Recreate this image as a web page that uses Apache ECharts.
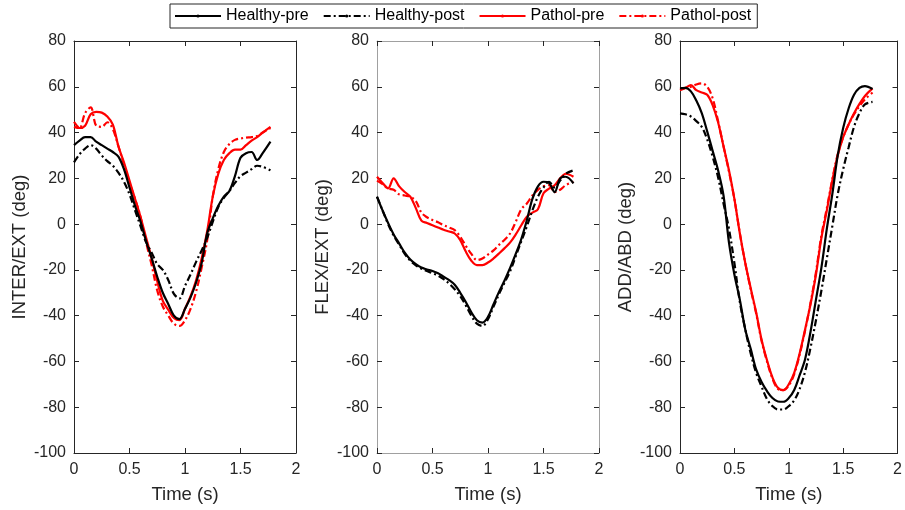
<!DOCTYPE html>
<html>
<head>
<meta charset="utf-8">
<script src="https://cdn.jsdelivr.net/npm/echarts@6/dist/echarts.min.js"></script>
<style>html,body{margin:0;padding:0;background:#fff}#c{width:905px;height:510px}</style>
</head>
<body>
<div id="c"></div>
<script>
// ---- data ----
const TIME = [0,0.05,0.1,0.15,0.2,0.25,0.3,0.35,0.4,0.45,0.5,0.55,0.6,0.65,0.7,0.75,0.8,0.85,0.9,0.95,1.0,1.05,1.1,1.15,1.2,1.25,1.3,1.35,1.4,1.45,1.5,1.55,1.6,1.65,1.7,1.77];
const SERIES_NAMES = ['Healthy-pre','Healthy-post','Pathol-pre','Pathol-post'];
const Y_LABELS = ['INTER/EXT (deg)','FLEX/EXT (deg)','ADD/ABD (deg)'];
const X_LABEL = 'Time (s)';

// Panel 1: INTER/EXT
const IE_HEALTHY_PRE  = [34.5,36.5,38,38,36,34.5,33,31.5,29.5,24,16,8,1,-7.5,-15,-23,-30,-35,-40,-41.5,-37,-32,-25.5,-17,-4,2.5,8,12,14.5,21,29,31,31.5,28,31,36];
const IE_HEALTHY_POST = [27,30.5,33,34.5,33,30,27.5,25.5,22.5,18.5,13,6,-1,-8,-12.5,-17.5,-20,-24.5,-30.5,-32.5,-27,-22,-16.5,-11.5,-6,1,7.5,11.5,14.5,18,21,22.5,24,25.5,25,23.5];
const IE_PATHOL_PRE   = [42.5,42,43,48,49,48.7,47,43.5,34,27,19,11,3,-6,-15,-25,-33.5,-37.5,-41,-42,-37,-31.5,-24.5,-15,-3,12,22,28,31,32.5,32.5,34.5,36.5,38,40,42.5];
const IE_PATHOL_POST  = [44.7,42,48.5,51,43,42.5,44.5,41.5,34,26,18,11,3,-8,-18,-29,-36,-40,-43.5,-44.5,-42,-37,-29.5,-19,-7,12,24,31.5,35,36.8,37.4,37.8,38,38.5,40,42];

// Panel 2: FLEX/EXT
const FE_HEALTHY_PRE  = [11.9,6,0.5,-4.5,-8.5,-12.5,-15.5,-17.5,-19,-19.8,-20.5,-21.5,-23,-24.5,-26.5,-30,-34,-38.5,-42,-43,-40.5,-35,-29.5,-24.5,-19,-13,-6.5,1.7,11,16.5,18.5,18,14,20,20.7,17.8];
const FE_HEALTHY_POST = [12,6,0,-5,-9,-13,-16,-18,-19.5,-20.5,-21.5,-22.5,-24,-26,-28.5,-31.5,-35.5,-40,-43.5,-44.5,-41.5,-36,-30.5,-25.5,-20.5,-14,-7.5,-1,6,12,16,18.5,16,19,22,23.5];
const FE_PATHOL_PRE   = [20.7,18,15.6,20,16.5,14,12,7,1.5,0.5,-0.5,-1.5,-2.5,-3.2,-4.1,-7,-12,-16,-17.9,-17.9,-16.8,-15,-12.8,-10.5,-8,-4.5,-0.5,3.2,5,6.5,13.5,15.5,17,20,22,20.7];
const FE_PATHOL_POST  = [19,17.5,15.6,15,13,12.5,12,10,5,3,1.8,0.8,-0.5,-1.5,-2.6,-5.5,-9.5,-13,-15.7,-15,-13.3,-11.5,-9,-6.8,-4,1,6.5,9,12.5,15,16.5,17,14,15,17,18.5];

// Panel 3: ADD/ABD
const AA_HEALTHY_PRE  = [59.3,59.5,58,54,48.5,40.5,32,23.5,12.5,-8,-22,-33,-46,-54.5,-63.5,-69,-73,-76,-77.5,-77.6,-76,-72.5,-66,-59,-47,-33,-19,-2,13,30,42,50.5,56.5,59.5,60.3,59];
const AA_HEALTHY_POST = [48.4,48,47,45,42.5,37,29.5,20.5,9,-2,-17,-34,-46,-56.5,-65,-71,-76.5,-79.5,-81,-81,-79.5,-77,-72,-64.5,-54,-42,-29,-15,-1,13,24,33.5,42.5,48.5,52.3,53.4];
const AA_PATHOL_PRE   = [58.5,59.5,60.7,58.5,57.5,56.5,52,44.5,34,23.5,11,-4,-17,-28,-38.5,-50.5,-59.5,-67,-71.5,-72.5,-70,-65,-56.5,-46,-35,-22,-6,6,19,30,38,43.5,48.4,52.5,56,59.3];
const AA_PATHOL_POST  = [59,59.5,60,61,61.5,60,55,45,34,23,11,-4,-17,-28.5,-39,-51,-60,-67.5,-72,-72.5,-70.5,-65.5,-57,-46.5,-34.5,-21,-5,7,19.5,30.5,38,43.5,48,51.5,54.5,57.5];

const PANELS = [
  [IE_HEALTHY_PRE, IE_HEALTHY_POST, IE_PATHOL_PRE, IE_PATHOL_POST],
  [FE_HEALTHY_PRE, FE_HEALTHY_POST, FE_PATHOL_PRE, FE_PATHOL_POST],
  [AA_HEALTHY_PRE, AA_HEALTHY_POST, AA_PATHOL_PRE, AA_PATHOL_POST]
];

// ---- styling ----
const FONT = 'Liberation Sans, Arial, Helvetica, sans-serif';
const TXT = '#262626';
const COLORS = ['#000000','#000000','#ff0000','#ff0000'];
const DASHDOT = [7,3,2,3];
const TYPES = ['solid', DASHDOT, 'solid', DASHDOT];
const GRID_LEFT = [74, 377, 680];
const GRID_W = 222, GRID_TOP = 41, GRID_H = 412;
const AXIS_LINE_COLORS = [TXT, '#a0a0a0', TXT];

const grids = [], xAxes = [], yAxes = [], series = [];
for (let p = 0; p < 3; p++) {
  grids.push({left: GRID_LEFT[p], top: GRID_TOP, width: GRID_W, height: GRID_H, show: false});
  const lineCol = AXIS_LINE_COLORS[p];
  const tick = {show: true, inside: true, length: 5, lineStyle: {color: TXT, width: 1}};
  const baseX = {type: 'value', gridIndex: p, min: 0, max: 2, interval: 0.5,
    splitLine: {show: false}, axisLine: {show: true, onZero: false, lineStyle: {color: lineCol, width: 1}}, axisTick: tick};
  xAxes.push(Object.assign({}, baseX, {position: 'bottom',
    axisLabel: {show: true, margin: 9, fontSize: 16, color: TXT, fontFamily: FONT},
    name: X_LABEL, nameLocation: 'middle', nameGap: 32,
    nameTextStyle: {fontSize: 18.5, color: TXT, fontFamily: FONT}}));
  xAxes.push(Object.assign({}, baseX, {position: 'top', axisLabel: {show: false}}));
  const baseY = {type: 'value', gridIndex: p, min: -100, max: 80, interval: 20,
    splitLine: {show: false}, axisLine: {show: true, onZero: false, lineStyle: {color: lineCol, width: 1}}, axisTick: tick};
  yAxes.push(Object.assign({}, baseY, {position: 'left',
    axisLabel: {show: true, margin: 8, fontSize: 16, color: TXT, fontFamily: FONT},
    name: Y_LABELS[p], nameLocation: 'middle', nameGap: 45,
    nameTextStyle: {fontSize: 18.5, color: TXT, fontFamily: FONT}}));
  yAxes.push(Object.assign({}, baseY, {position: 'right', axisLabel: {show: false}}));
  for (let s = 0; s < 4; s++) {
    const ys = PANELS[p][s];
    series.push({
      name: SERIES_NAMES[s], type: 'line', xAxisIndex: 2 * p, yAxisIndex: 2 * p,
      data: TIME.map((t, i) => [t, ys[i]]),
      smooth: 0.35, symbol: 'circle', symbolSize: 3, showSymbol: false,
      color: COLORS[s],
      lineStyle: {color: COLORS[s], width: 2.2, type: TYPES[s]},
      itemStyle: {color: COLORS[s]},
      emphasis: {disabled: true}, animation: false, z: 10 - s
    });
  }
}

const chart = echarts.init(document.getElementById('c'), null, {renderer: 'canvas'});
chart.setOption({
  backgroundColor: '#ffffff',
  animation: false,
  legend: {
    data: SERIES_NAMES, left: 170, top: 4, orient: 'horizontal',
    itemWidth: 46, itemHeight: 4, itemGap: 14,
    padding: [4, 6, 4, 4],
    borderColor: TXT, borderWidth: 1, backgroundColor: '#fff',
    textStyle: {fontSize: 16, color: '#000', fontFamily: FONT},
    selectedMode: false
  },
  grid: grids, xAxis: xAxes, yAxis: yAxes, series: series
});
</script>
</body>
</html>
